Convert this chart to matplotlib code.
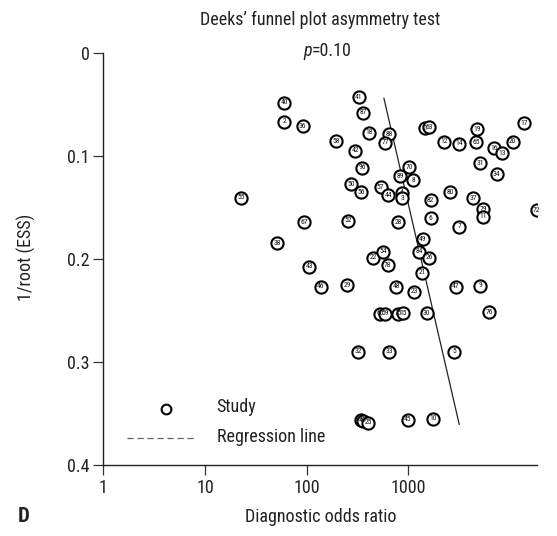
import matplotlib
matplotlib.use("Agg")
import matplotlib.pyplot as plt
from matplotlib.lines import Line2D

plt.rcParams['font.family'] = ['Roboto Condensed', 'Liberation Sans Narrow', 'Roboto', 'DejaVu Sans']

# study points: diagnostic odds ratio, 1/root(ESS), label
dor = [60, 60, 91, 324, 360, 410, 194, 300, 352, 271, 342, 22.6,
       649, 589, 1456, 1606, 2239, 3124, 4757, 4621, 13700, 10620, 6950, 8270,
       5060, 7380, 1021, 827, 1117, 534, 634, 859, 865, 1657, 2564, 4348,
       5450, 5450, 18260, 95, 256, 51, 449, 106, 138, 251, 790, 1657,
       3163, 1383, 567, 1271, 1606, 626, 1370, 755, 1143, 2938, 5060,
       526, 589, 796, 891, 1513, 6207, 322, 649, 2827, 340, 360, 403, 984, 1757]
inv_ess = [0.0485, 0.067, 0.0712, 0.0433, 0.0583, 0.0777, 0.0857, 0.0951, 0.1117, 0.1275, 0.1355, 0.1406,
           0.0792, 0.0874, 0.0734, 0.0724, 0.0864, 0.0883, 0.0744, 0.0867, 0.0685, 0.0864, 0.0928, 0.0977,
           0.1074, 0.1181, 0.1113, 0.1197, 0.1236, 0.1307, 0.1382, 0.1359, 0.1414, 0.1430, 0.1355, 0.1414,
           0.1520, 0.1592, 0.1527, 0.1644, 0.1631, 0.1850, 0.1988, 0.2078, 0.2272, 0.2255, 0.1644, 0.1608,
           0.1689, 0.1812, 0.1932, 0.1932, 0.1990, 0.2061, 0.2136, 0.2272, 0.2320, 0.2272, 0.2262,
           0.2532, 0.2532, 0.2532, 0.2527, 0.2527, 0.2520, 0.2903, 0.2903, 0.2903, 0.3559, 0.3573, 0.3592, 0.3559, 0.3553]
labels = ['40', '2', '36', '41', '87', '18', '58', '42', '96', '50', '56', '55',
          '88', '77', '1', '63', '12', '14', '19', '65', '17', '20', '16', '13',
          '31', '34', '70', '89', '8', '57', '44', '4', '3', '82', '80', '37',
          '79', '11', '72', '67', '52', '38', '22', '43', '46', '29', '28', '6',
          '7', '49', '54', '84', '26', '78', '21', '48', '23', '47', '9',
          '60', '59', '75', '15', '30', '76', '32', '33', '5', '62', '61', '25', '45', '10']

# regression line end points
reg_x = [575, 3162]
reg_y = [0.0443, 0.3605]

x_ticks = [1, 10, 100, 1000]
x_ticklabels = ['1', '10', '100', '1000']
y_ticks = [0, 0.1, 0.2, 0.3, 0.4]
y_ticklabels = ['0', '0.1', '0.2', '0.3', '0.4']

fig = plt.figure(figsize=(5.57, 5.36), dpi=100)
ax = fig.add_axes([0.1855, 0.1325, 0.7781, 0.7692])

ax.plot(reg_x, reg_y, color='#222222', lw=0.9, zorder=2)
ax.plot(dor, inv_ess, 'o', ms=8.8, mfc='white', mec='black', mew=1.5, zorder=3)
for x, y, t in zip(dor, inv_ess, labels):
    ax.text(x, y, t, fontsize=5.4, ha='center', va='center', color='#111111', zorder=4)

ax.set_xscale('log')
ax.set_xlim(1, 18300)
ax.set_ylim(0.4, 0)
ax.set_xticks(x_ticks)
ax.set_xticklabels(x_ticklabels)
ax.minorticks_off()
ax.set_yticks(y_ticks)
ax.set_yticklabels(y_ticklabels)
ax.tick_params(labelsize=13, length=7, width=0.9, color='#333333', labelcolor='#222222', pad=3)
for s in ['top', 'right']:
    ax.spines[s].set_visible(False)
for s in ['left', 'bottom']:
    ax.spines[s].set_linewidth(1.0)
    ax.spines[s].set_color('#222222')

fig.text(0.575, 0.963, "Deeks\u2019 funnel plot asymmetry test", ha='center', va='center',
         fontsize=13, color='#222222')
fig.text(0.560, 0.905, "p", ha='right', va='center', fontsize=13, style='italic', color='#222222')
fig.text(0.560, 0.905, "=0.10", ha='left', va='center', fontsize=13, color='#222222')
fig.text(0.575, 0.035, "Diagnostic odds ratio", ha='center', va='center', fontsize=13, color='#222222')
fig.text(0.048, 0.519, "1/root (ESS)", ha='center', va='center', rotation=90, fontsize=13, color='#222222')
fig.text(0.042, 0.037, "D", ha='center', va='center', fontsize=15, fontweight='bold', color='#222222')

# legend
fig.add_artist(Line2D([165.7 / 557], [1 - 409 / 536], marker='o', ms=7, mfc='white', mec='black', mew=1.5))
fig.add_artist(Line2D([126.7 / 557, 196.7 / 557], [1 - 438 / 536] * 2, ls=(0, (5, 3)), lw=0.9, color='#666666'))
fig.text(216.7 / 557, 1 - 407 / 536, "Study", ha='left', va='center', fontsize=13, color='#222222')
fig.text(216.7 / 557, 1 - 437 / 536, "Regression line", ha='left', va='center', fontsize=13, color='#222222')

fig.savefig("out.png", dpi=100)
